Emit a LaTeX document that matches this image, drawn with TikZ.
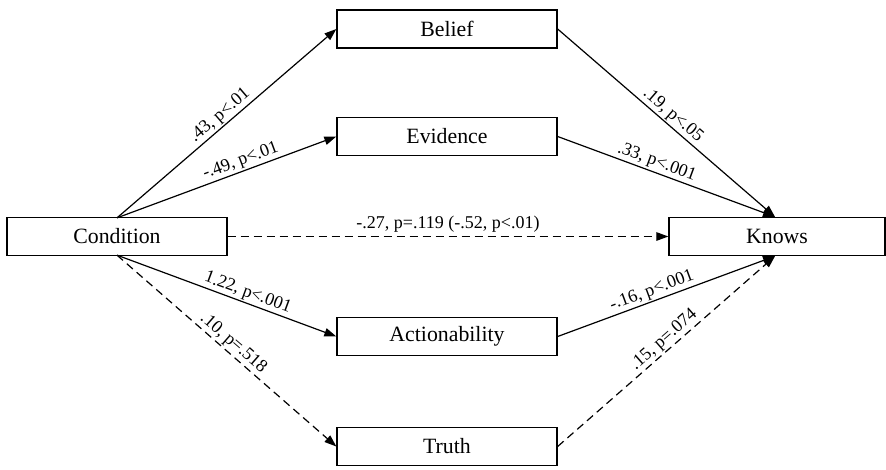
\documentclass[tikz,border=0pt]{standalone}
\usepackage{fontspec}
\setmainfont{Liberation Serif}
\usetikzlibrary{arrows.meta}
\begin{document}
\begin{tikzpicture}[x=1pt,y=-1pt,
  box/.style={draw, line width=1.3pt, minimum height=38pt, inner sep=0pt, font=\fontsize{21.8}{24}\selectfont},
  link/.style={line width=1.2pt, -{Triangle[length=12pt,width=8.5pt]}},
  dsh/.style={dash pattern=on 8pt off 5pt},
  lab/.style={sloped, above, inner sep=1.5pt, font=\fontsize{18}{20}\selectfont}]
\useasboundingbox (0,0) rectangle (886,469);
\node[box, minimum width=220pt] (cond) at (117,236.5) {Condition};
\node[box, minimum width=216pt] (know) at (777,236.5) {Knows};
\node[box, minimum width=220pt] (bel) at (447,29) {Belief};
\node[box, minimum width=220pt] (evi) at (447,136.5) {Evidence};
\node[box, minimum width=220pt] (act) at (447,336.5) {Actionability};
\node[box, minimum width=220pt] (tru) at (447,446.5) {Truth};
\coordinate (ct) at ([yshift=-1pt]cond.north);
\coordinate (cb) at ([yshift=1pt]cond.south);
\coordinate (kt) at ([xshift=-2pt]know.north);
\coordinate (kb) at ([xshift=-2pt]know.south);
\draw[link] (ct) -- node[lab, pos=0.5] {.43, p<.01} (bel.west);
\draw[link] (ct) -- node[lab, pos=0.58] {-.49, p<.01} (evi.west);
\draw[link] (cb) -- node[lab, pos=0.58] {1.22, p<.001} (act.west);
\draw[link, dsh] (cb) -- node[lab, pos=0.5] {.10, p=.518} (tru.west);
\draw[link] (bel.east) -- node[lab, pos=0.5] {.19, p<.05} (kt);
\draw[link] (evi.east) -- node[lab, pos=0.44] {.33, p<.001} (kt);
\draw[link] (act.east) -- node[lab, pos=0.45] {-.16, p<.001} (kb);
\draw[link, dsh] (tru.east) -- node[lab, pos=0.52] {.15, p=.074} (kb);
\draw[link, dsh] (cond.east) -- node[lab, pos=0.5, inner sep=4pt] {-.27, p=.119 (-.52, p<.01)} (know.west);
\end{tikzpicture}
\end{document}
